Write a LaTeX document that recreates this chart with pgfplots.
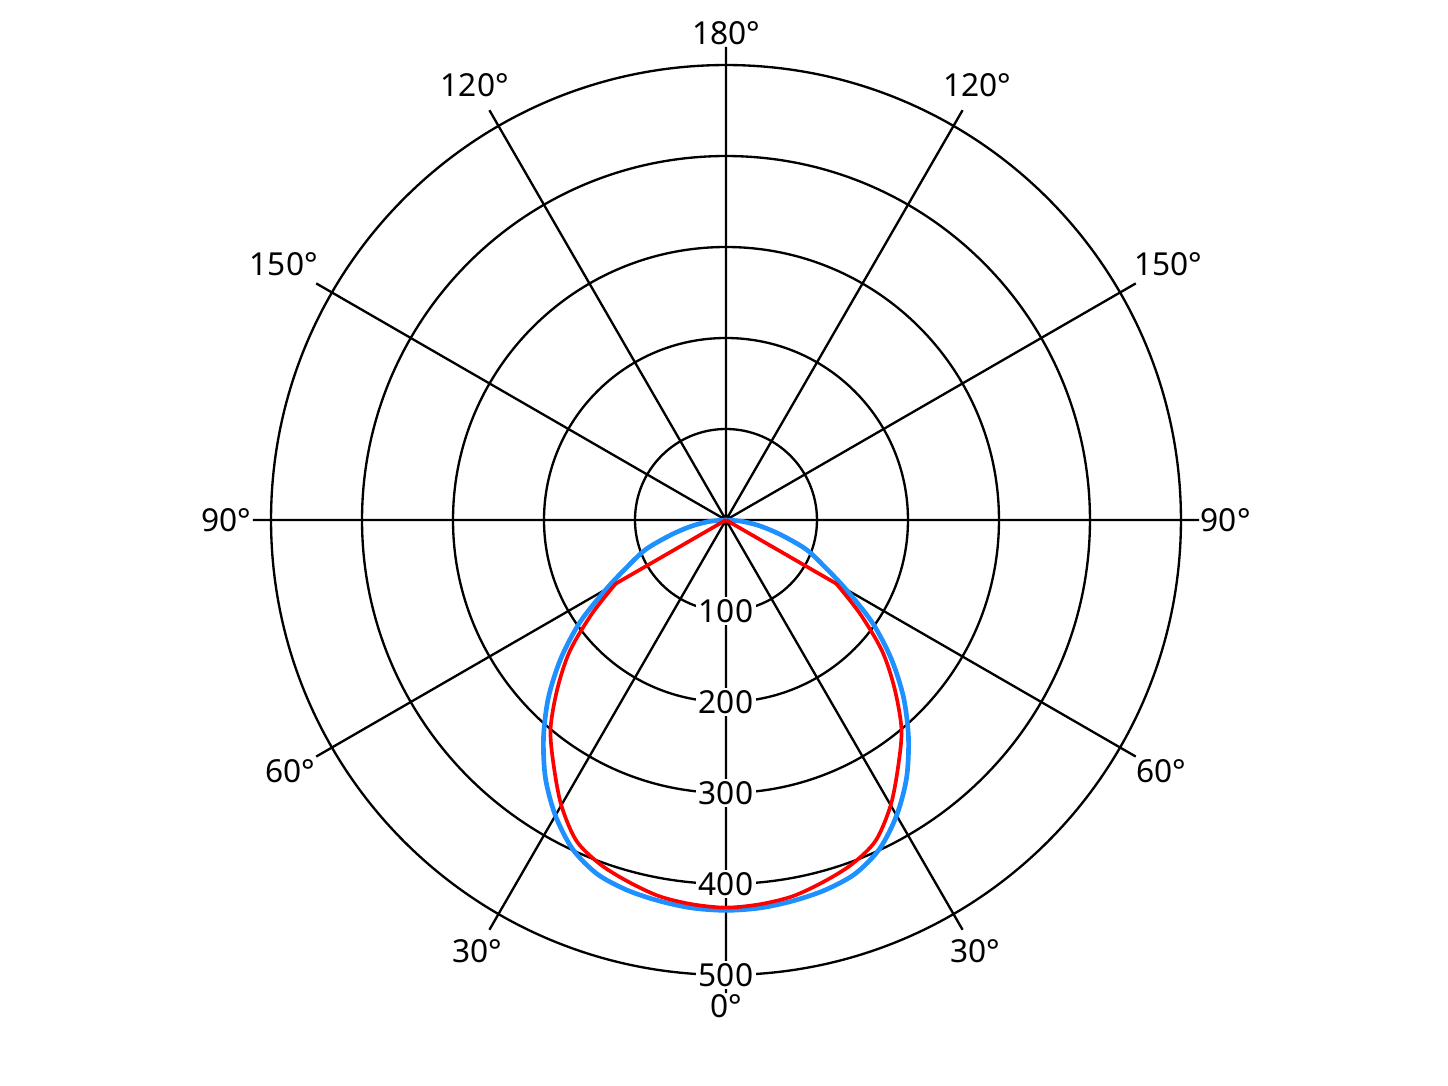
\documentclass[border=0pt]{standalone}
\usepackage{fontspec}
\setmainfont{Noto Sans}
\usepackage{pgfplots}
\pgfplotsset{compat=1.18}
\usepgfplotslibrary{polar}
\usepackage{pgfplotstable}

\definecolor{curveblue}{RGB}{30,144,255}
\definecolor{curvered}{RGB}{255,0,0}

% angle (polar, 270 = straight down) and intensity
\pgfplotstableread{
a r
180 0
185 18
190 38
195 62
200 93
205 118
210 152
215 196
220 237
225 276
230 312
235 346
240 375
245 399
250 414
255 421
260 425
265 428
270 429
275 428
280 425
285 421
290 414
295 399
300 375
305 346
310 312
315 276
320 237
325 196
330 152
335 118
340 93
345 62
350 38
355 18
360 0
}\bluedata

\pgfplotstableread{
a r
210 140
215 180
220 224
225 262
230 300
235 330
240 362
245 389
250 403
255 412
260 420
265 424
270 426
275 424
280 420
285 412
290 403
295 389
300 362
305 330
310 300
315 262
320 224
325 180
330 140
}\reddata

\begin{document}
\begin{tikzpicture}
\begin{polaraxis}[
  width=283.9pt, height=283.9pt, scale only axis,
  ymin=0, ymax=520,
  xtick={0,30,...,330},
  xticklabels={90°,150°,120°,180°,120°,150°,90°,60°,30°,0°,30°,60°},
  ytick={100,200,300,400,500},
  yticklabels={},
  xmajorgrids, ymajorgrids,
  grid style={black, line width=0.7pt},
  axis line style={draw=none},
  major tick length=0pt,
  tick label style={font=\fontsize{9.5}{11}\selectfont},
  xticklabel style={inner sep=0.3pt},
  clip=false,
]
\addplot[curveblue, line width=1.4pt, smooth] table[x=a, y=r] {\bluedata};
\addplot[curvered, line width=1.1pt, smooth] table[x=a, y=r] {\reddata};
\addplot[curvered, line width=1.1pt] coordinates {(210,140) (180,0)};
\addplot[curvered, line width=1.1pt] coordinates {(330,140) (360,0)};
\pgfplotsinvokeforeach{100,200,300,400,500}{
  \node[fill=white, inner sep=0.8pt, font=\fontsize{9.5}{11}\selectfont] at (axis cs:270,#1) {#1};
}
\coordinate (O) at (axis cs:0,0);
\end{polaraxis}
\path ([shift={(-217.8pt,-169.8pt)}]O) rectangle ([shift={(216.6pt,156pt)}]O);
\end{tikzpicture}
\end{document}
